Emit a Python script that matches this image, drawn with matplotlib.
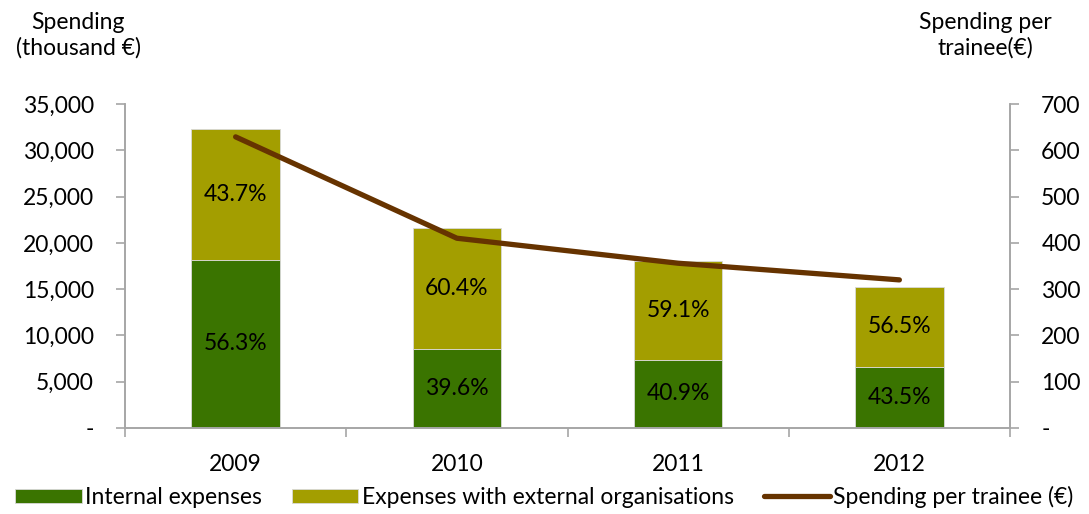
import numpy as np
import matplotlib.pyplot as plt
from matplotlib.ticker import FuncFormatter

plt.rcParams['font.family'] = ['Lato', 'DejaVu Sans']

# data
years = ['2009', '2010', '2011', '2012']
internal = [18180, 8550, 7380, 6630]          # thousand €
external = [14120, 13050, 10660, 8600]        # thousand €
internal_pct = ['56.3%', '39.6%', '40.9%', '43.5%']
external_pct = ['43.7%', '60.4%', '59.1%', '56.5%']
per_trainee = [629, 410, 356, 320]            # €

c_int = '#3a7400'
c_ext = '#a39e00'
c_line = '#663300'
c_axis = '#a6a6a6'
fs = 16.5

fig = plt.figure(figsize=(10.89, 5.14), dpi=100)
ax = fig.add_axes([125/1089, 1-428/514, 885/1089, 324/514])
ax2 = ax.twinx()

x = np.arange(len(years))
ax.bar(x, internal, width=0.4, color=c_int, edgecolor='#d9d9d9', linewidth=0.6,
       label='Internal expenses', zorder=2)
ax.bar(x, external, width=0.4, bottom=internal, color=c_ext, edgecolor='#d9d9d9',
       linewidth=0.6, label='Expenses with external organisations', zorder=2)

for i in range(len(years)):
    ax.text(x[i], internal[i] / 2, internal_pct[i], ha='center', va='center', fontsize=fs)
    ax.text(x[i], internal[i] + external[i] / 2, external_pct[i], ha='center',
            va='center', fontsize=fs)

ax2.plot(x, per_trainee, color=c_line, linewidth=3.8, solid_capstyle='round',
         label='Spending per trainee (€)')

ax.set_xlim(-0.5, 3.5)
ax.set_ylim(0, 35000)
ax2.set_ylim(0, 700)
ax.set_yticks(np.arange(0, 35001, 5000))
ax2.set_yticks(np.arange(0, 701, 100))
ax.yaxis.set_major_formatter(FuncFormatter(lambda v, p: '-' if v == 0 else f'{v:,.0f}'))
ax2.yaxis.set_major_formatter(FuncFormatter(lambda v, p: '-' if v == 0 else f'{v:.0f}'))

ax.set_xticks(x)
ax.set_xticklabels(years)
ax.set_xticks(np.arange(-0.5, 3.6, 1), minor=True)
ax.tick_params(axis='x', which='major', length=0, pad=19, labelsize=fs)
ax.tick_params(axis='x', which='minor', length=6.5, width=1.2, color=c_axis, direction='out')
ax.tick_params(axis='y', length=6.5, width=1.2, color=c_axis, labelsize=fs, pad=16)
ax2.tick_params(axis='y', length=6.5, width=1.2, color=c_axis, labelsize=fs, pad=16)

for a in (ax, ax2):
    a.spines['top'].set_visible(False)
    for s in ('left', 'right', 'bottom'):
        a.spines[s].set_color(c_axis)
        a.spines[s].set_linewidth(1.2)

fig.text(78/1089, 1-35/514, 'Spending\n(thousand €)', ha='center', va='center',
         fontsize=fs, linespacing=1.25)
fig.text(985/1089, 1-35/514, 'Spending per\ntrainee(€)', ha='center', va='center',
         fontsize=fs, linespacing=1.25)

h1, l1 = ax.get_legend_handles_labels()
h2, l2 = ax2.get_legend_handles_labels()
fig.legend(h1 + h2, l1 + l2, loc='center', bbox_to_anchor=(0.5, 1-497/514), ncol=3,
           frameon=False, fontsize=fs, handlelength=2.9, handleheight=0.6,
           handletextpad=0.15, columnspacing=1.3)

fig.savefig('out.png', dpi=100)
